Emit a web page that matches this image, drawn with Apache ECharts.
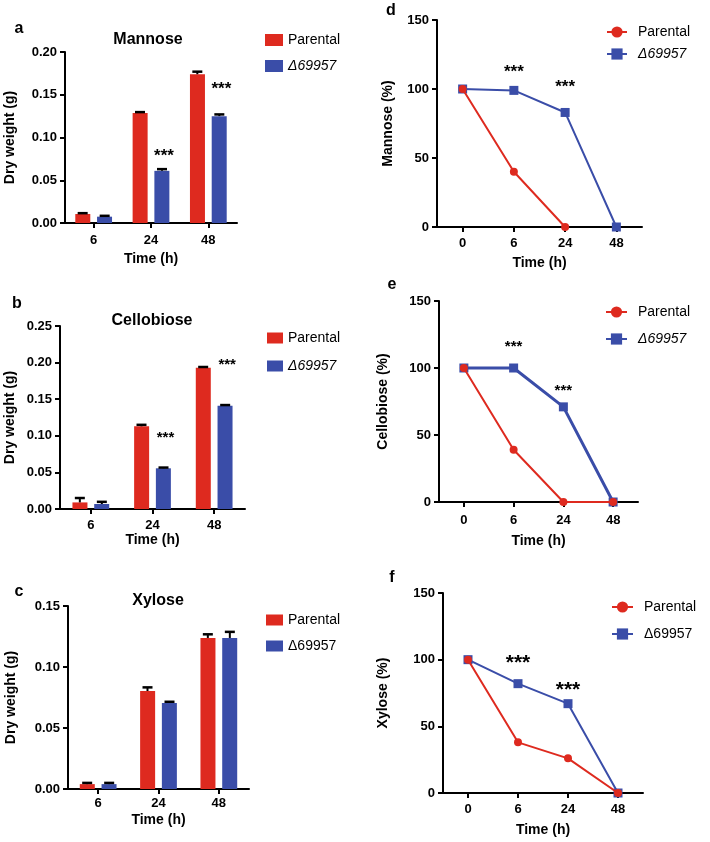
<!DOCTYPE html>
<html>
<head>
<meta charset="utf-8">
<title>Sugar consumption</title>
<script src="https://cdn.jsdelivr.net/npm/echarts@6/dist/echarts.min.js"></script>
<style>
  html, body { margin: 0; padding: 0; background: #fff; }
  #chart { width: 710px; height: 842px; }
</style>
</head>
<body>
<div id="chart"></div>
<script type="text/javascript">
    // categories
    let barTimes = ['6', '24', '48'];
    let lineTimes = ['0', '6', '24', '48'];

    // a - Mannose dry weight (g)
    let mannoseParental = [0.0105, 0.1287, 0.174];
    let mannoseParentalErr = [0.001, 0.001, 0.003];
    let mannoseMutant = [0.0074, 0.061, 0.125];
    let mannoseMutantErr = [0.001, 0.002, 0.002];
    let mannoseStars = [null, 0.078, 0.156];

    // b - Cellobiose dry weight (g)
    let cellobioseParental = [0.009, 0.113, 0.193];
    let cellobioseParentalErr = [0.006, 0.002, 0.001];
    let cellobioseMutant = [0.0068, 0.0556, 0.141];
    let cellobioseMutantErr = [0.003, 0.001, 0.001];
    let cellobioseStars = [null, 0.097, 0.197];

    // c - Xylose dry weight (g)
    let xyloseParental = [0.004, 0.0803, 0.1238];
    let xyloseParentalErr = [0.001, 0.003, 0.003];
    let xyloseMutant = [0.004, 0.0705, 0.1238];
    let xyloseMutantErr = [0.001, 0.001, 0.005];

    // d - Mannose (%)
    let mannosePctParental = [100, 40, 0, null];
    let mannosePctMutant = [100, 99, 83, 0];
    let mannosePctStars = [null, 112, 101, null];

    // e - Cellobiose (%)
    let cellobiosePctParental = [100, 39, 0, 0];
    let cellobiosePctMutant = [100, 100, 71, 0];
    let cellobiosePctStars = [null, 116, 83, null];

    // f - Xylose (%)
    let xylosePctParental = [100, 38, 26, 0];
    let xylosePctMutant = [100, 82, 67, 0];
    let xylosePctStars = [null, 97, 77, null];

    // tick labels
    let weightTicksA = { max: 0.20, interval: 0.05 };
    let weightTicksB = { max: 0.25, interval: 0.05 };
    let weightTicksC = { max: 0.15, interval: 0.05 };
    let percentTicks = { max: 150, interval: 50 };

    let RED = '#de2a1f';
    let BLUE = '#3a4da8';
    let FONT = '"Liberation Sans", Arial, sans-serif';

    let chart = echarts.init(document.getElementById('chart'));

    // panel layout (px)
    let panels = [
        { key: 'a', kind: 'bar', grid: { left: 65, top: 52, width: 172, height: 171 }, ticks: weightTicksA,
          yName: 'Dry weight (g)', yGap: 48, xGap: 29, labelMargin: 11,
          parental: mannoseParental, parentalErr: mannoseParentalErr, mutant: mannoseMutant, mutantErr: mannoseMutantErr,
          stars: mannoseStars, starSize: 17, italic: true,
          legend: { left: 265, top: 33, itemWidth: 18, itemHeight: 12, itemGap: 12 } },
        { key: 'b', kind: 'bar', grid: { left: 60, top: 326, width: 185, height: 183 }, ticks: weightTicksB,
          yName: 'Dry weight (g)', yGap: 43, xGap: 20, labelMargin: 10,
          parental: cellobioseParental, parentalErr: cellobioseParentalErr, mutant: cellobioseMutant, mutantErr: cellobioseMutantErr,
          stars: cellobioseStars, starSize: 15, italic: true,
          legend: { left: 267, top: 331, itemWidth: 16, itemHeight: 11, itemGap: 14 } },
        { key: 'c', kind: 'bar', grid: { left: 68, top: 606, width: 181, height: 183 }, ticks: weightTicksC,
          yName: 'Dry weight (g)', yGap: 50, xGap: 24, labelMargin: 8,
          parental: xyloseParental, parentalErr: xyloseParentalErr, mutant: xyloseMutant, mutantErr: xyloseMutantErr,
          stars: null, starSize: 16, italic: false,
          legend: { left: 266, top: 613, itemWidth: 17, itemHeight: 11, itemGap: 12 } },
        { key: 'd', kind: 'line', grid: { left: 437, top: 20, width: 205, height: 207 }, ticks: percentTicks,
          yName: 'Mannose (%)', yGap: 42, xGap: 29, labelMargin: 10,
          parental: mannosePctParental, mutant: mannosePctMutant, stars: mannosePctStars, starSize: 17,
          italic: true, mutantWidth: 2,
          legend: { left: 606, top: 25, itemWidth: 20, itemHeight: 14, itemGap: 8 } },
        { key: 'e', kind: 'line', grid: { left: 439, top: 301, width: 199, height: 201 }, ticks: percentTicks,
          yName: 'Cellobiose (%)', yGap: 49, xGap: 32, labelMargin: 12,
          parental: cellobiosePctParental, mutant: cellobiosePctMutant, stars: cellobiosePctStars, starSize: 15,
          italic: true, mutantWidth: 3,
          legend: { left: 605, top: 305, itemWidth: 21, itemHeight: 14, itemGap: 13 } },
        { key: 'f', kind: 'line', grid: { left: 443, top: 593, width: 200, height: 200 }, ticks: percentTicks,
          yName: 'Xylose (%)', yGap: 53, xGap: 30, labelMargin: 10,
          parental: xylosePctParental, mutant: xylosePctMutant, stars: xylosePctStars, starSize: 21,
          italic: false, mutantWidth: 2,
          legend: { left: 611, top: 600, itemWidth: 21, itemHeight: 14, itemGap: 13 } }
    ];

    let titles = [
        { text: 'a', left: 19, top: 21 },
        { text: 'b', left: 17, top: 296 },
        { text: 'c', left: 19, top: 584 },
        { text: 'd', left: 391, top: 3 },
        { text: 'e', left: 392, top: 277 },
        { text: 'f', left: 392, top: 570 },
        { text: 'Mannose', left: 148, top: 32, size: 16 },
        { text: 'Cellobiose', left: 152, top: 313, size: 16 },
        { text: 'Xylose', left: 158, top: 593, size: 16 }
    ].map(function (t) {
        return {
            text: t.text, left: t.left, top: t.top, textAlign: 'center', padding: 0,
            textStyle: { fontFamily: FONT, fontWeight: 'bold', fontSize: t.size || 16, color: '#000' }
        };
    });

    let axisLine = { show: true, onZero: false, lineStyle: { color: '#000', width: 2 } };

    let grids = [], xAxes = [], yAxes = [], series = [], legends = [];

    // error bars drawn above each bar
    function errorSeries(i, values, errs, offset) {
        return {
            type: 'custom', xAxisIndex: i, yAxisIndex: i, z: 5, silent: true,
            data: values.map(function (v, k) { return [k, v, errs[k]]; }),
            renderItem: function (params, api) {
                let p0 = api.coord([api.value(0), api.value(1)]);
                let p1 = api.coord([api.value(0), api.value(1) + api.value(2)]);
                let x = p0[0] + offset;
                return {
                    type: 'group',
                    children: [
                        { type: 'line', shape: { x1: x, y1: p0[1], x2: x, y2: p1[1] }, style: { stroke: '#000', lineWidth: 2 } },
                        { type: 'line', shape: { x1: x - 5, y1: p1[1], x2: x + 5, y2: p1[1] }, style: { stroke: '#000', lineWidth: 2.5 } }
                    ]
                };
            }
        };
    }

    // *** significance marks
    function starSeries(i, stars, offset, size) {
        return {
            type: 'custom', xAxisIndex: i, yAxisIndex: i, z: 6, silent: true,
            data: stars.map(function (v, k) { return v == null ? null : [k, v]; }).filter(Boolean),
            renderItem: function (params, api) {
                let p = api.coord([api.value(0), api.value(1)]);
                return {
                    type: 'text', x: p[0] + offset, y: p[1],
                    style: { text: '***', fill: '#000', align: 'center', verticalAlign: 'middle',
                             font: 'bold ' + size + 'px ' + FONT }
                };
            }
        };
    }

    panels.forEach(function (p, i) {
        grids.push(Object.assign({ containLabel: false }, p.grid));
        xAxes.push({
            type: 'category', gridIndex: i, data: p.kind === 'bar' ? barTimes : lineTimes,
            boundaryGap: true,
            axisLine: axisLine,
            axisTick: { show: true, alignWithLabel: true, length: 5, lineStyle: { color: '#000', width: 2 } },
            axisLabel: { color: '#000', fontFamily: FONT, fontWeight: 'bold', fontSize: 13, margin: p.labelMargin },
            splitLine: { show: false },
            name: 'Time (h)', nameLocation: 'middle', nameGap: p.xGap,
            nameTextStyle: { color: '#000', fontFamily: FONT, fontWeight: 'bold', fontSize: 14 }
        });
        yAxes.push({
            type: 'value', gridIndex: i, min: 0, max: p.ticks.max, interval: p.ticks.interval,
            axisLine: axisLine,
            axisTick: { show: true, length: 5, lineStyle: { color: '#000', width: 2 } },
            axisLabel: {
                color: '#000', fontFamily: FONT, fontWeight: 'bold', fontSize: 13, margin: 8,
                formatter: p.kind === 'bar' ? function (v) { return v.toFixed(2); } : '{value}'
            },
            splitLine: { show: false },
            name: p.yName, nameLocation: 'middle', nameGap: p.yGap,
            nameTextStyle: { color: '#000', fontFamily: FONT, fontWeight: 'bold', fontSize: 14 }
        });

        let nameP = 'Parental#' + p.key;
        let nameM = '\u039469957#' + p.key;

        if (p.kind === 'bar') {
            series.push({
                name: nameP, type: 'bar', xAxisIndex: i, yAxisIndex: i, data: p.parental,
                barWidth: 15, barGap: '45%', itemStyle: { color: RED }
            });
            series.push({
                name: nameM, type: 'bar', xAxisIndex: i, yAxisIndex: i, data: p.mutant,
                barWidth: 15, itemStyle: { color: BLUE }
            });
            series.push(errorSeries(i, p.parental, p.parentalErr, -11));
            series.push(errorSeries(i, p.mutant, p.mutantErr, 11));
            if (p.stars) series.push(starSeries(i, p.stars, 13, p.starSize));
        } else {
            series.push({
                name: nameP, type: 'line', xAxisIndex: i, yAxisIndex: i, data: p.parental,
                symbol: 'circle', symbolSize: 8, z: 3,
                lineStyle: { color: RED, width: 2 }, itemStyle: { color: RED }
            });
            series.push({
                name: nameM, type: 'line', xAxisIndex: i, yAxisIndex: i, data: p.mutant,
                symbol: 'rect', symbolSize: 9, z: 2,
                lineStyle: { color: BLUE, width: p.mutantWidth }, itemStyle: { color: BLUE }
            });
            series.push(starSeries(i, p.stars, 0, p.starSize));
        }

        legends.push(Object.assign({
            orient: 'vertical', padding: 0, selectedMode: false,
            icon: p.kind === 'bar' ? 'rect' : undefined,
            textStyle: { fontFamily: FONT, fontSize: 14, color: '#000',
                         padding: p.kind === 'line' ? [0, 0, 0, 6] : 0 },
            formatter: function (name) { return name.split('#')[0]; },
            data: [
                { name: nameP },
                { name: nameM, textStyle: { fontStyle: p.italic ? 'italic' : 'normal' } }
            ]
        }, p.legend));
    });

    let option = {
        backgroundColor: '#fff',
        animation: false,
        title: titles,
        legend: legends,
        grid: grids,
        xAxis: xAxes,
        yAxis: yAxes,
        series: series
    };

    chart.setOption(option);
</script>
</body>
</html>
